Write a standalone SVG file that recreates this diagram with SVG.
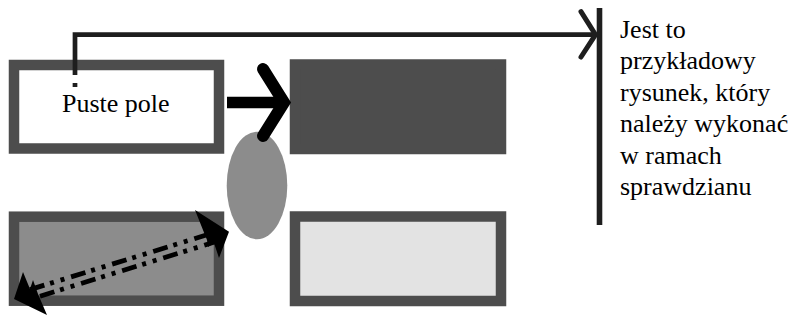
<svg xmlns="http://www.w3.org/2000/svg" width="794" height="320" viewBox="0 0 794 320">
<style>
.box{stroke:#4d4d4d;stroke-width:10.5}
text{font-family:'Liberation Serif','Times New Roman',serif;font-size:26px;fill:#000}
.dd{fill:none;stroke:#000;stroke-width:4.8;stroke-dasharray:15 6 4 7 4 7}
</style>
<rect width="794" height="320" fill="#fff"/>
<g id="box1"><rect class="box" x="14" y="65" width="205" height="83.5" fill="#fff"/><text x="62" y="112">Puste pole</text></g>
<g id="box2"><rect class="box" x="295" y="64.5" width="206" height="84.5" fill="#4d4d4d"/></g>
<g id="box3"><rect class="box" x="295" y="216.5" width="206" height="84.5" fill="#e3e3e3"/></g>
<g id="box4"><rect class="box" x="14" y="216.7" width="205" height="84" fill="#8c8c8c"/></g>
<g id="ellipse"><ellipse cx="257" cy="185.5" rx="30.3" ry="53.8" fill="#8c8c8c"/></g>
<g id="note"><text x="620" y="37.5">Jest to</text><text x="620" y="69">przykładowy</text><text x="620" y="100.5">rysunek, który</text><text x="620" y="132">należy wykonać</text><text x="620" y="163.5">w ramach</text><text x="620" y="195">sprawdzianu</text><line x1="599.5" y1="8" x2="599.5" y2="225" stroke="#1e1e1e" stroke-width="5.6"/></g>
<g id="connectors">
<path d="M75,87 V34.7 H595" fill="none" stroke="#1e1e1e" stroke-width="4.7" stroke-dasharray="4 8 1000"/>
<polyline points="581,11.7 595.5,34.7 581,57" fill="none" stroke="#1e1e1e" stroke-width="5" stroke-linecap="round" stroke-linejoin="miter"/>
<line x1="227" y1="102.5" x2="286" y2="102.5" stroke="#000" stroke-width="11.6"/>
<polyline points="263,69 284,102.5 263,136" fill="none" stroke="#000" stroke-width="12" stroke-linecap="round" stroke-linejoin="miter"/>
<path class="dd" d="M30,289.6 L215,232.3"/>
<path class="dd" d="M40,296.2 L220,240.4"/>
<polygon points="14,299 23,272 30,289 33,280 38,294 47,315" fill="#000"/>
<polygon points="229,231.7 195,210 207,240 208,247 214,243 219,258" fill="#000"/>
</g>
</svg>
